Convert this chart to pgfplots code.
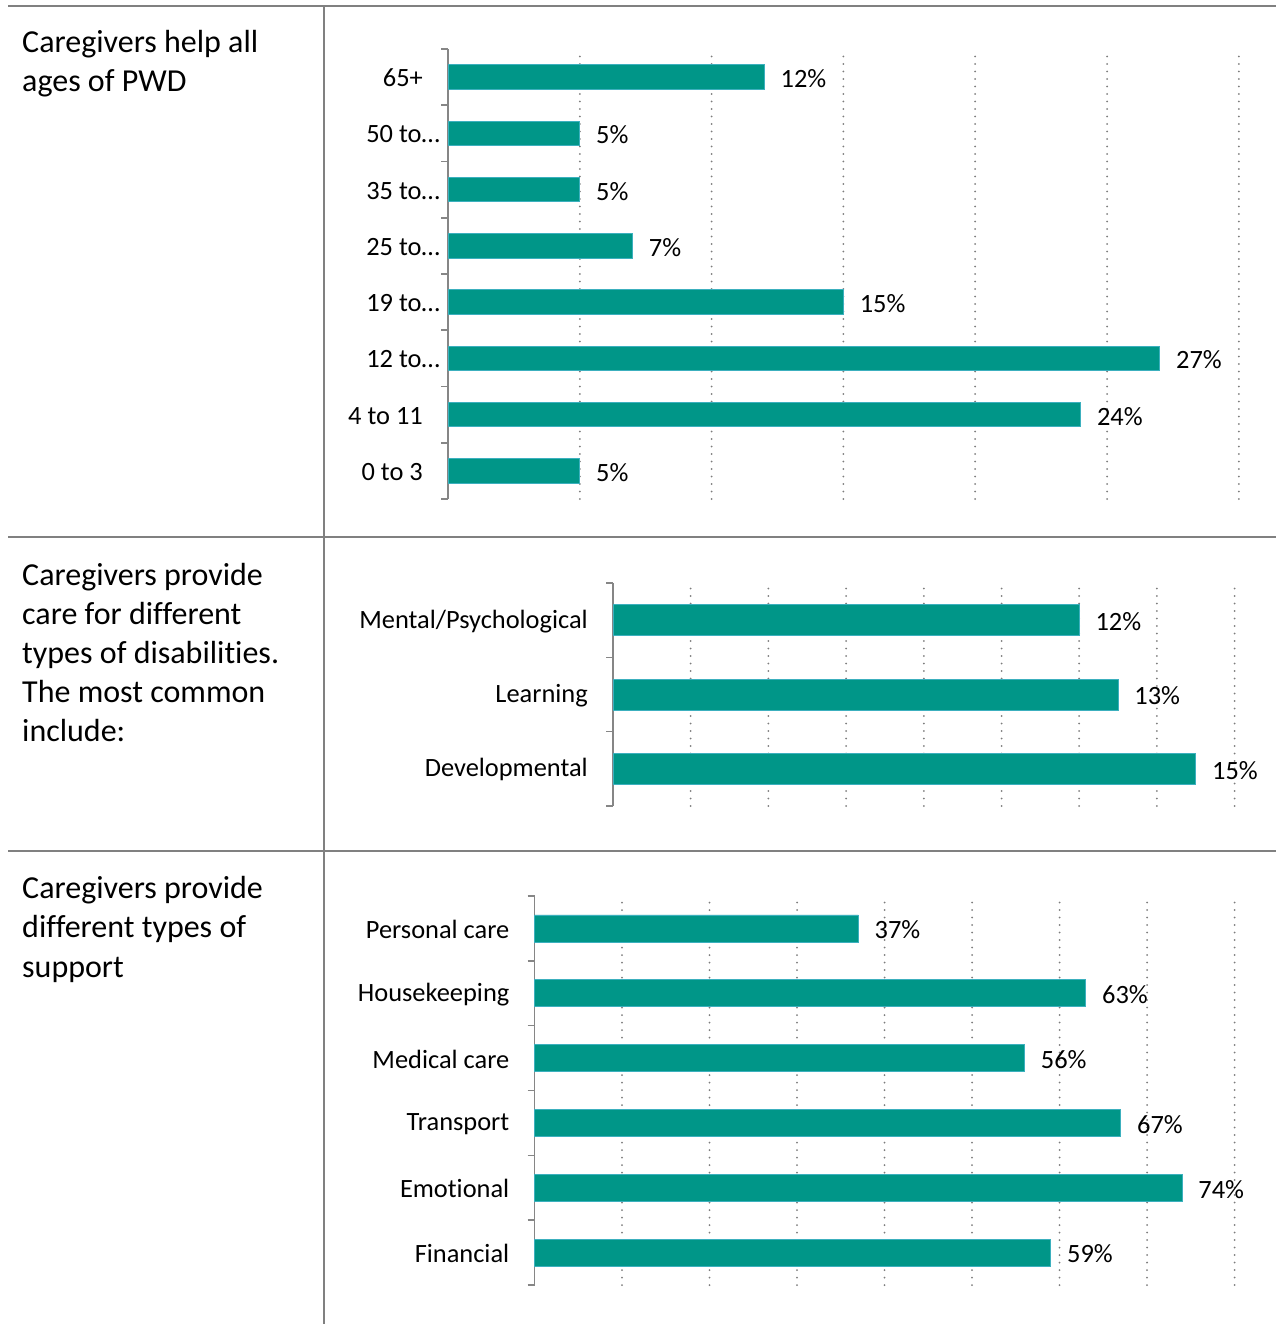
\documentclass[border=0pt]{standalone}
\usepackage{fontspec}
\setmainfont{Carlito}[Ligatures=NoCommon]
\usepackage{pgfplots}
\pgfplotsset{compat=1.18}
\definecolor{barfill}{RGB}{0,150,136}
\definecolor{baredge}{RGB}{60,176,190}
\definecolor{tline}{RGB}{128,128,128}
\definecolor{axgray}{RGB}{134,134,134}
\definecolor{gridgray}{RGB}{125,125,125}
\newcommand{\lblfont}{\fontsize{26.4}{30}\selectfont}
\newcommand{\bigfont}{\fontsize{32}{39}\selectfont}
\pgfplotsset{
  mybar/.style={
    xbar, scale only axis, anchor=north west, clip=false,
    xmin=0,
    axis x line=bottom, axis y line=left,
    x axis line style={draw=none},
    y axis line style={draw=axgray, line width=1.6pt, -},
    xmajorgrids,
    grid style={draw=gridgray, line width=2pt, dash pattern=on 0pt off 7.5pt, line cap=round},
    major tick length=0pt, minor tick length=7pt, tick align=outside,
    minor tick style={draw=axgray, line width=1.6pt},
    major tick style={draw=none},
    xticklabels={},
    yticklabel style={font=\lblfont, anchor=east, inner sep=0pt, xshift=-25pt, yshift=-1pt, text=black},
    point meta=x,
    nodes near coords={\pgfmathprintnumber[assume math mode=true,fixed,precision=0]{\pgfplotspointmeta}\%},
    every node near coord/.append style={anchor=west, inner sep=0pt, xshift=16pt, yshift=-1.5pt, font=\lblfont, text=black},
  },
  barstyle/.style={fill=barfill, draw=baredge, line width=0.8pt},
}
\begin{document}
\begin{tikzpicture}
\path[use as bounding box] (0pt,0pt) rectangle (1276pt,-1324pt);
% table lines
\draw[tline, line width=2pt] (8pt,-6pt) -- (1276pt,-6pt);
\draw[tline, line width=2pt] (8pt,-537pt) -- (1276pt,-537pt);
\draw[tline, line width=2pt] (8pt,-851pt) -- (1276pt,-851pt);
\draw[tline, line width=2pt] (324pt,-6pt) -- (324pt,-1324pt);
% left texts
\begin{scope}[every node/.style={anchor=base west, inner sep=0pt, font=\bigfont}]
\node at (22pt,-53pt) {Caregivers help all};
\node at (22pt,-92pt) {ages of PWD};
\node at (22pt,-585pt) {Caregivers provide};
\node at (22pt,-624pt) {care for different};
\node at (22pt,-663pt) {types of disabilities.};
\node at (22pt,-702pt) {The most common};
\node at (22pt,-741pt) {include:};
\node at (22pt,-898pt) {Caregivers provide};
\node at (22pt,-937pt) {different types of};
\node at (22pt,-977pt) {support};
\end{scope}
% chart 1
\begin{axis}[mybar, at={(448pt,-49pt)}, width=790.8pt, height=450pt,
  xmax=30, xtick={5,10,...,30},
  ymin=-0.5, ymax=7.5, ytick={0,...,7},
  minor ytick={-0.5,0.5,...,7.5},
  yticklabels={0 to 3, 4 to 11, 12 to…\hspace*{-17pt}, 19 to…\hspace*{-17pt}, 25 to…\hspace*{-17pt}, 35 to…\hspace*{-17pt}, 50 to…\hspace*{-17pt}, 65+},
]
\addplot[barstyle, bar width=24.5pt] coordinates {(5,0) (24,1) (27,2) (15,3) (7,4) (5,5) (5,6) (12,7)};
\end{axis}
% chart 2
\begin{axis}[mybar, at={(613pt,-583pt)}, width=621.6pt, height=223pt,
  xmax=16, xtick={2,4,...,16},
  ymin=-0.5, ymax=2.5, ytick={0,1,2},
  minor ytick={-0.5,0.5,1.5,2.5},
  yticklabels={Developmental, Learning, Mental/Psychological},
]
\addplot[barstyle, bar width=31pt] coordinates {(15,0) (13,1) (12,2)};
\end{axis}
% chart 3
\begin{axis}[mybar, at={(534.5pt,-896pt)}, width=700pt, height=389pt,
  xmax=80, xtick={10,20,...,80},
  ymin=-0.5, ymax=5.5, ytick={0,...,5},
  minor ytick={-0.5,0.5,...,5.5},
  yticklabels={Financial, Emotional, Transport, Medical care, Housekeeping, Personal care},
]
\addplot[barstyle, bar width=27pt] coordinates {(59,0) (74,1) (67,2) (56,3) (63,4) (37,5)};
\end{axis}
\end{tikzpicture}
\end{document}
